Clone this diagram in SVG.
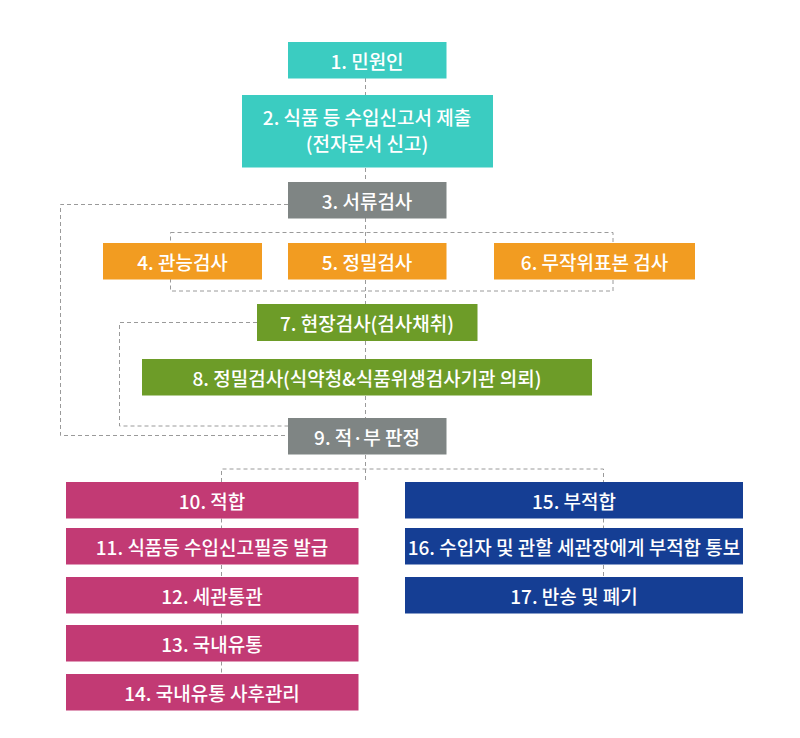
<svg xmlns="http://www.w3.org/2000/svg" width="800" height="738" viewBox="0 0 800 738">
<style>
  .lbl { font-family: "Noto Sans CJK KR", "Noto Sans", sans-serif; font-size: 19px; font-weight: 500; fill: #ffffff; text-anchor: middle; dominant-baseline: central; }
  .teal { fill: #3BCCC1; }
  .gray { fill: #7F8584; }
  .orange { fill: #F29C21; }
  .green { fill: #6D9C28; }
  .mag { fill: #C23A74; }
  .blue { fill: #153E94; }
  .dash { fill: none; stroke: #9A9A9A; stroke-width: 1; stroke-dasharray: 4 3; }
</style>
<rect width="800" height="738" fill="#ffffff"/>
<g id="connectors">
  <path class="dash" d="M365.5 78 V95 M365.5 168 V182 M365.5 218 V243 M365.5 280 V304 M365.5 341 V359 M365.5 396 V418 M365.5 455 V482"/>
  <rect class="dash" x="170.5" y="232.5" width="442.5" height="58.5"/>
  <path class="dash" d="M288 204.5 H60.5 V435.5 H288"/>
  <path class="dash" d="M257 322.5 H119.5 V426 H288"/>
  <path class="dash" d="M221.5 482 V469 H603.5 V482"/>
  <path class="dash" d="M221.5 518.5 V528 M221.5 565 V577 M221.5 613.5 V625 M221.5 661.5 V674"/>
  <path class="dash" d="M603.5 518.5 V528 M603.5 565 V577"/>
</g>
<g id="n1"><rect class="teal" x="288" y="42" width="158.5" height="36.5"/><text class="lbl" x="367" y="60.5">1. 민원인</text></g>
<g id="n2"><rect class="teal" x="242" y="95" width="251" height="72.5"/><text class="lbl" x="367" y="116.5">2. 식품 등 수입신고서 제출</text><text class="lbl" x="367" y="142">(전자문서 신고)</text></g>
<g id="n3"><rect class="gray" x="288" y="182" width="158.5" height="36.5"/><text class="lbl" x="367" y="200.5">3. 서류검사</text></g>
<g id="n4"><rect class="orange" x="103" y="243" width="159" height="36.5"/><text class="lbl" x="182.5" y="261.5">4. 관능검사</text></g>
<g id="n5"><rect class="orange" x="288" y="243" width="158.5" height="36.5"/><text class="lbl" x="367" y="261.5">5. 정밀검사</text></g>
<g id="n6"><rect class="orange" x="494" y="243" width="201" height="36.5"/><text class="lbl" x="594.5" y="261.5">6. 무작위표본 검사</text></g>
<g id="n7"><rect class="green" x="257" y="304" width="220.5" height="37"/><text class="lbl" x="367" y="322.5">7. 현장검사(검사채취)</text></g>
<g id="n8"><rect class="green" x="142" y="359" width="450" height="36.5"/><text class="lbl" x="367" y="377.5">8. 정밀검사(식약청&amp;식품위생검사기관 의뢰)</text></g>
<g id="n9"><rect class="gray" x="288" y="418" width="158.5" height="36.5"/><text class="lbl" x="367" y="436.5">9. 적·부 판정</text></g>
<g id="n10"><rect class="mag" x="66" y="482" width="292.5" height="36.5"/><text class="lbl" x="212" y="500.5">10. 적합</text></g>
<g id="n11"><rect class="mag" x="66" y="528" width="292.5" height="36.5"/><text class="lbl" x="212" y="546.5">11. 식품등 수입신고필증 발급</text></g>
<g id="n12"><rect class="mag" x="66" y="577" width="292.5" height="36.5"/><text class="lbl" x="212" y="595.5">12. 세관통관</text></g>
<g id="n13"><rect class="mag" x="66" y="625" width="292.5" height="36.5"/><text class="lbl" x="212" y="643.5">13. 국내유통</text></g>
<g id="n14"><rect class="mag" x="66" y="674" width="292.5" height="36.5"/><text class="lbl" x="212" y="692.5">14. 국내유통 사후관리</text></g>
<g id="n15"><rect class="blue" x="405" y="482" width="338" height="36.5"/><text class="lbl" x="574" y="500.5">15. 부적합</text></g>
<g id="n16"><rect class="blue" x="405" y="528" width="338" height="36.5"/><text class="lbl" x="574" y="546.5">16. 수입자 및 관할 세관장에게 부적합 통보</text></g>
<g id="n17"><rect class="blue" x="405" y="577" width="338" height="36.5"/><text class="lbl" x="574" y="595.5">17. 반송 및 폐기</text></g>
</svg>
